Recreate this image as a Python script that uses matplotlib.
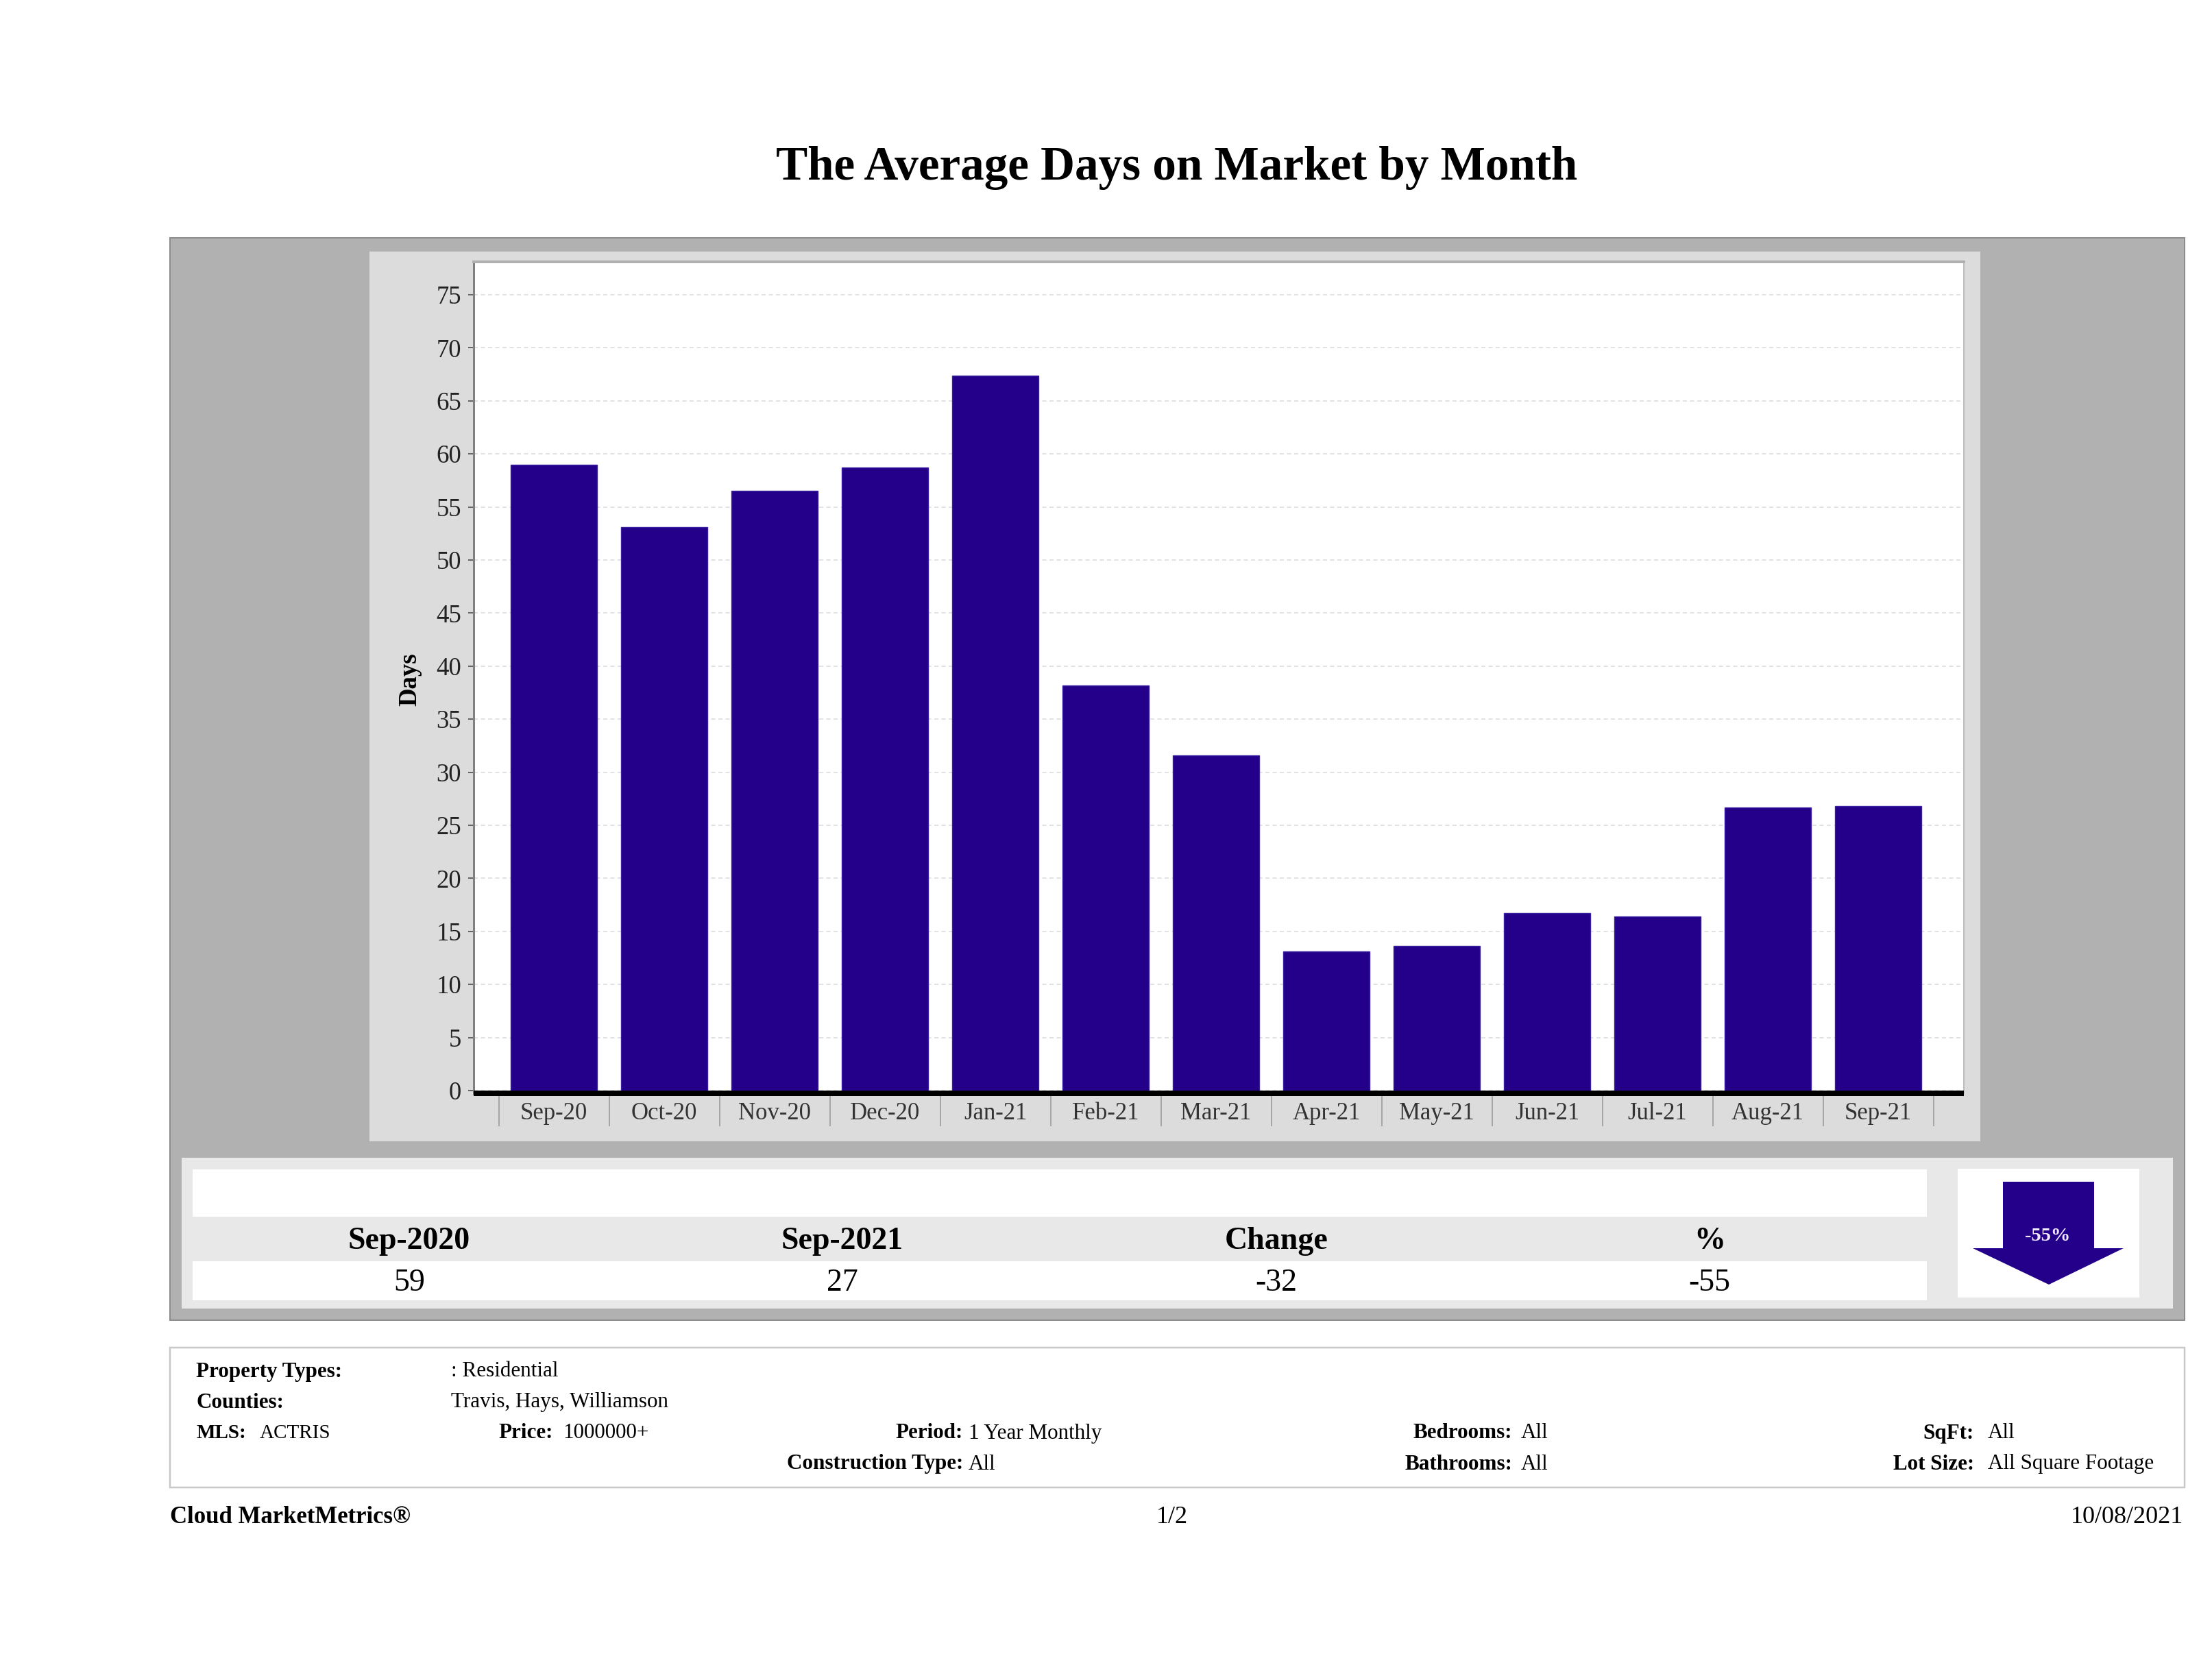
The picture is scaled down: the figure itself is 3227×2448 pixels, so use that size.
#!/usr/bin/env python3
"""
Average days on market by month, report page layout.
"""

import numpy as np
import matplotlib
matplotlib.use('Agg')
import matplotlib.pyplot as plt
from matplotlib.patches import Rectangle, Polygon

plt.rcParams['font.family'] = ['Liberation Serif', 'DejaVu Serif']

months = ['Sep-20', 'Oct-20', 'Nov-20', 'Dec-20', 'Jan-21', 'Feb-21', 'Mar-21',
          'Apr-21', 'May-21', 'Jun-21', 'Jul-21', 'Aug-21', 'Sep-21']
days = [59.0, 53.1, 56.5, 58.7, 67.4, 38.2, 31.6, 13.1, 13.6, 16.7, 16.4, 26.7, 26.8]
y_ticks = [0, 5, 10, 15, 20, 25, 30, 35, 40, 45, 50, 55, 60, 65, 70, 75]

summary_headers = ['Sep-2020', 'Sep-2021', 'Change', '%']
summary_values = ['59', '27', '-32', '-55']
arrow_label = '-55%'

BAR_COLOR = '#24008a'
W, H = 3227, 2448
DPI = 100
PX = 72 / DPI  # one image pixel in points

fig = plt.figure(figsize=(W / DPI, H / DPI), dpi=DPI, facecolor='white')

# page layer, in image pixels
page = fig.add_axes([0, 0, 1, 1])
page.set_xlim(0, W)
page.set_ylim(H, 0)
page.axis('off')


def box(x0, y0, x1, y1, color, edge='none', lw=0):
    page.add_patch(Rectangle((x0, y0), x1 - x0, y1 - y0, facecolor=color,
                             edgecolor=edge, linewidth=lw * PX))


def label(x, y, text, size=22.4, bold=False, ha='left', color='black'):
    page.text(x, y, text, fontsize=size, ha=ha, va='center', color=color,
              fontweight='bold' if bold else 'normal')


page.text(1717, 245, 'The Average Days on Market by Month', fontsize=49.8,
          fontweight='bold', ha='center', va='center')

# grey panels
box(248, 347, 3187, 1926, '#b1b1b1', edge='#8c8c8c', lw=2)
box(539, 367, 2889, 1665, '#dcdcdc')
box(265, 1689, 3170, 1909, '#e8e8e8')
box(281, 1706, 2811, 1775, 'white')
box(281, 1840, 2811, 1897, 'white')
box(2856, 1705, 3121, 1893, 'white')

# summary table
for x, head, val in zip([597, 1229, 1862, 2494], summary_headers, summary_values):
    label(x, 1811, head, size=33, bold=True, ha='center')
    label(x, 1872, val, size=33, ha='center')

# change arrow
page.add_patch(Polygon([(2922, 1724), (3055, 1724), (3055, 1821), (3098, 1821),
                        (2989, 1874), (2878, 1821), (2922, 1821)],
                       closed=True, facecolor=BAR_COLOR, edgecolor='none'))
label(2987, 1803, arrow_label, size=20.5, bold=True, ha='center', color='#f0e8ff')

# criteria box
box(248, 1966, 3187, 2170, 'white', edge='#c8c8c8', lw=2.5)
label(286, 2001, 'Property Types:', bold=True)
label(658, 2001, ': Residential')
label(286, 2046, 'Counties:', bold=True)
label(658, 2046, 'Travis, Hays, Williamson')
label(286, 2091, 'MLS:', bold=True, size=21)
label(379, 2091, 'ACTRIS', size=21)
label(807, 2091, 'Price:', bold=True, ha='right')
label(821, 2091, '1000000+')
label(1405, 2091, 'Period:', bold=True, ha='right')
label(1413, 2091, '1 Year Monthly')
label(1405, 2136, 'Construction Type:', bold=True, ha='right')
label(1413, 2136, 'All')
label(2206, 2091, 'Bedrooms:', bold=True, ha='right')
label(2219, 2091, 'All')
label(2206, 2136, 'Bathrooms:', bold=True, ha='right')
label(2219, 2136, 'All')
label(2880, 2091, 'SqFt:', bold=True, ha='right')
label(2900, 2091, 'All')
label(2880, 2136, 'Lot Size:', bold=True, ha='right')
label(2900, 2136, 'All Square Footage')

# footer
label(248, 2213, 'Cloud MarketMetrics®', size=25, bold=True)
label(1710, 2213, '1/2', size=26, ha='center')
label(3185, 2213, '10/08/2021', size=26, ha='right')

# chart, zero sits at y=1591 with 15.48 px per day
left, right, top, bottom = 691, 2865, 382, 1595
ax = fig.add_axes([left / W, 1 - bottom / H, (right - left) / W, (bottom - top) / H])
ax.set_facecolor('white')
x = np.arange(len(months))
ax.bar(x, days, width=0.78, color=BAR_COLOR, edgecolor='#3a20a0', linewidth=1, zorder=3)
ax.set_xlim(-0.727, 12.776)
ax.set_ylim(-4 / 15.48, (1591 - top) / 15.48)

ax.set_yticks(y_ticks)
ax.set_xticks(x)
ax.set_xticklabels(months)
ax.set_xticks(np.arange(len(months) + 1) - 0.5, minor=True)
ax.tick_params(axis='y', labelsize=26.5, length=8 * PX, width=2 * PX, color='#666666',
               pad=10 * PX, labelcolor='#222222')
ax.tick_params(axis='x', which='major', length=0, labelsize=25, pad=13 * PX,
               labelcolor='#333333')
ax.tick_params(axis='x', which='minor', length=48 * PX, width=2 * PX, color='#a6a6a6')
ax.set_axisbelow(True)
ax.grid(True, axis='y', color='#d9d9d9', linewidth=1.5 * PX, linestyle=(0, (4, 3)))

ax.spines['left'].set_color('#808080')
ax.spines['left'].set_linewidth(3 * PX)
ax.spines['top'].set_color('#b0b0b0')
ax.spines['top'].set_linewidth(4 * PX)
ax.spines['right'].set_color('#bdbdbd')
ax.spines['right'].set_linewidth(2 * PX)
ax.spines['bottom'].set_color('black')
ax.spines['bottom'].set_linewidth(8 * PX)
ax.spines['bottom'].set_capstyle('butt')
ax.spines['bottom'].set_zorder(5)

ax.set_ylabel('Days', fontsize=26.5, fontweight='bold')
ax.yaxis.set_label_coords((615 - left) / (right - left), (bottom - 991) / (bottom - top))

fig.savefig('out.png', dpi=DPI)
